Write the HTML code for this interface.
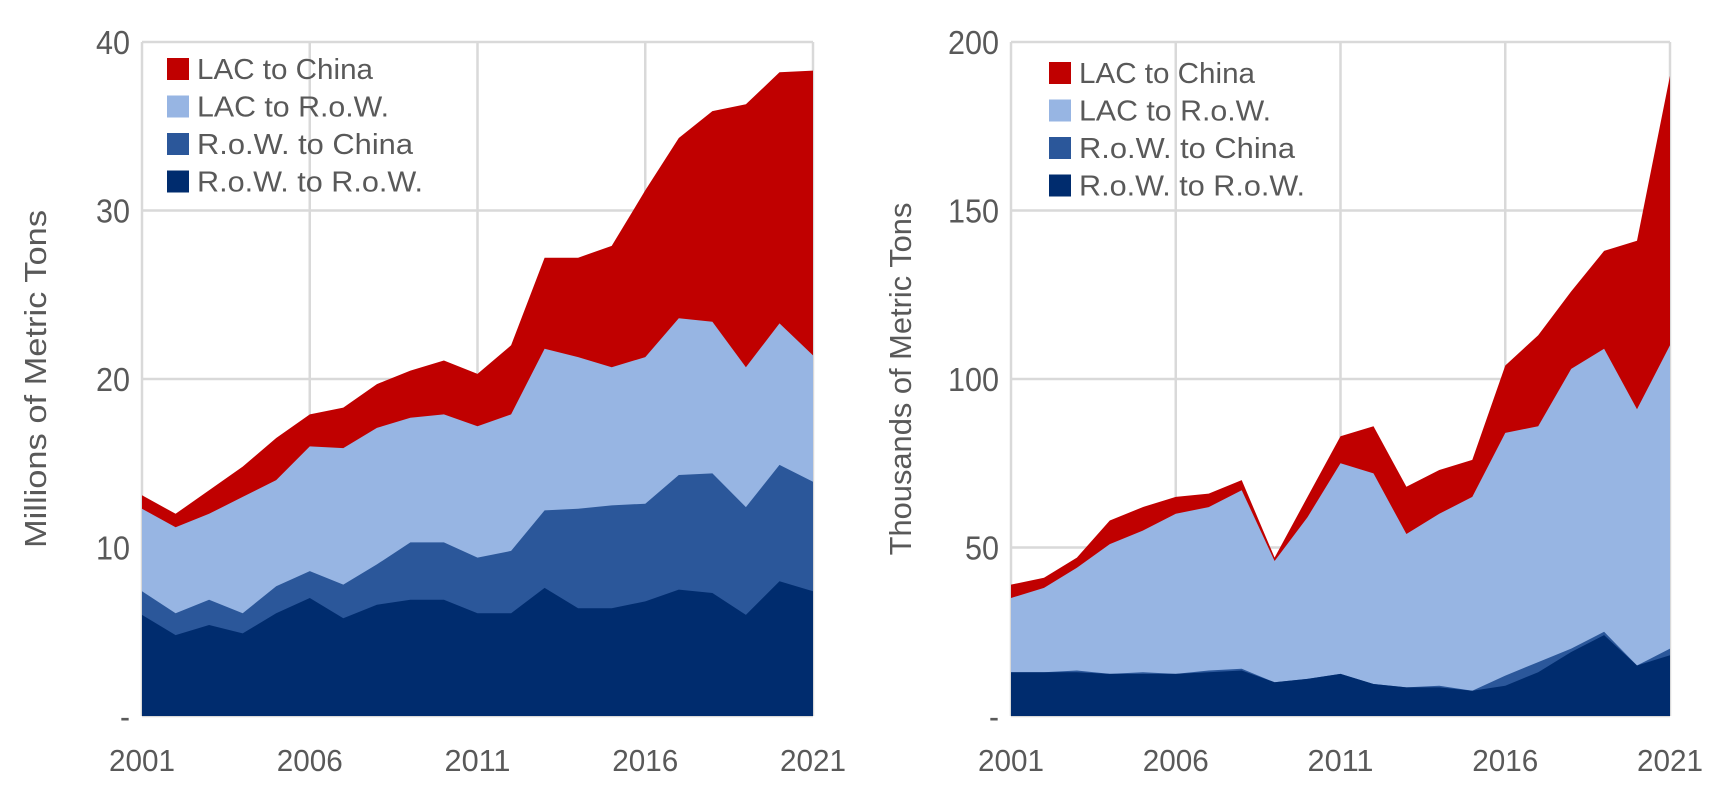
<!DOCTYPE html>
<html><head><meta charset="utf-8"><style>
html,body{margin:0;padding:0;background:#fff;}
svg{display:block;font-family:"Liberation Sans",sans-serif;}
</style></head><body>
<svg id="s" width="1728" height="800" xmlns="http://www.w3.org/2000/svg"></svg>
<script>
const C=["#002c6e","#2b579a","#97b5e3","#c00000"];
function chart(x0,x1,y0,y1,max,ticks,data,lx,title,tx){
 let g="";
 const X=i=>x0+(x1-x0)*i/20, Y=v=>y1-(y1-y0)*v/max;
 ticks.forEach((t,k)=>{const v=max*k/(ticks.length-1);const y=Y(v);
  g+=`<line x1="${x0}" x2="${x1}" y1="${y}" y2="${y}" stroke="#d9d9d9" stroke-width="2.5"/>`;
  g+=`<text x="${x0-12}" y="${y+12}" text-anchor="end" font-size="33" fill="#595959" textLength="${t.length>1?t.length*17:10}" lengthAdjust="spacingAndGlyphs">${t}</text>`;});
 [0,5,10,15,20].forEach(i=>{g+=`<line x1="${X(i)}" x2="${X(i)}" y1="${y0}" y2="${y1}" stroke="#d9d9d9" stroke-width="2.5"/>`;
  g+=`<text x="${X(i)}" y="${y1+55}" text-anchor="middle" font-size="31" fill="#595959" textLength="66" lengthAdjust="spacingAndGlyphs">${2001+i}</text>`;});
 for(let s=3;s>=0;s--){let p=data[s].map((v,i)=>`${X(i).toFixed(1)},${Y(v).toFixed(1)}`).join(" ");
  g+=`<polygon points="${X(0)},${y1} ${p} ${X(20)},${y1}" fill="${C[s]}"/>`;}
 const names=["LAC to China","LAC to R.o.W.","R.o.W. to China","R.o.W. to R.o.W."];
 const lens=[176,192,216,226];
 names.forEach((n,k)=>{const y=lx[1]+k*37.5;
  g+=`<rect x="${lx[0]}" y="${y-11}" width="22" height="22" fill="${C[3-k]}"/>`;
  g+=`<text x="${lx[0]+30}" y="${y+10}" font-size="29" fill="#595959" textLength="${lens[k]}" lengthAdjust="spacingAndGlyphs">${n}</text>`;});
 g+=`<text transform="translate(${tx},${(y0+y1)/2}) rotate(-90)" text-anchor="middle" font-size="31" fill="#595959" textLength="${title.length*14.7}" lengthAdjust="spacingAndGlyphs">${title}</text>`;
 return g;}
const L=[[6.0,4.8,5.4,4.9,6.1,7.0,5.8,6.6,6.9,6.9,6.1,6.1,7.6,6.4,6.4,6.8,7.5,7.3,6.0,8.0,7.4],
[7.4,6.1,6.9,6.1,7.7,8.6,7.8,9.0,10.3,10.3,9.4,9.8,12.2,12.3,12.5,12.6,14.3,14.4,12.4,14.9,13.9],
[12.3,11.2,12.0,13.0,14.0,16.0,15.9,17.1,17.7,17.9,17.2,17.9,21.8,21.3,20.7,21.3,23.6,23.4,20.7,23.3,21.4],
[13.1,12.0,13.4,14.8,16.5,17.9,18.3,19.7,20.5,21.1,20.3,22.0,27.2,27.2,27.9,31.2,34.3,35.9,36.3,38.2,38.3]];
const R=[[13,13,13,12.5,12.5,12.5,13,13.5,10,11,12.5,9.5,8.5,8.5,7.5,9,13,19,24,15,18],
[13,13,13.5,12.5,13,12.5,13.5,14,10,11,12.5,9.5,8.5,9,7.5,12,16,20,25,15,20],
[35,38,44,51,55,60,62,67,46,59,75,72,54,60,65,84,86,103,109,91,110],
[39,41,47,58,62,65,66,70,47,65,83,86,68,73,76,104,113,126,138,141,190]];
document.getElementById("s").innerHTML=
 chart(142,813,42,716,40,["-","10","20","30","40"],L,[167,69],"Millions of Metric Tons",46)+
 chart(1011,1670,42,716,200,["-","50","100","150","200"],R,[1049,73],"Thousands of Metric Tons",911);
</script>
</body></html>
